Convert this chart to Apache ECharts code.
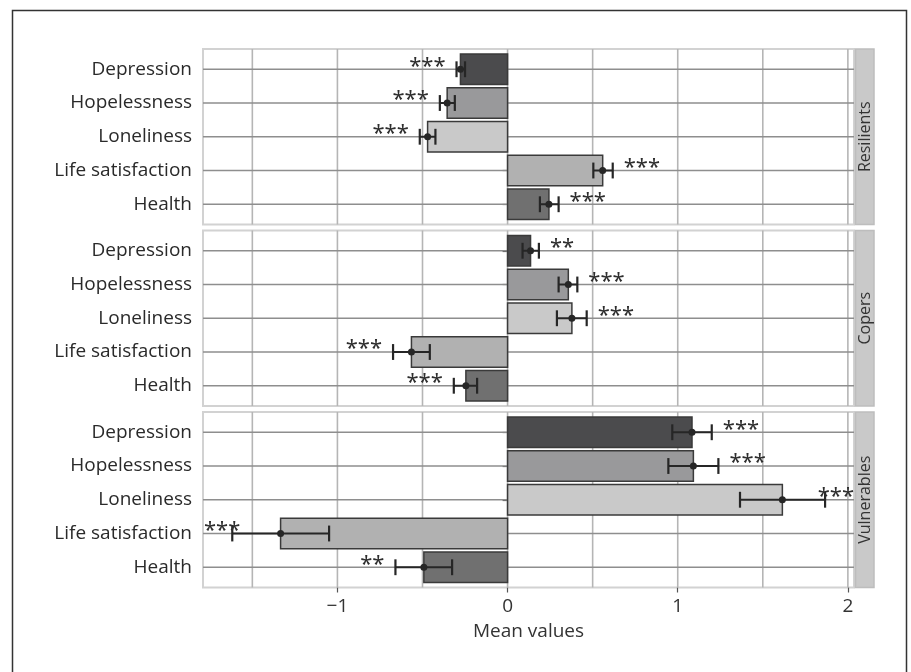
<!DOCTYPE html>
<html>
<head>
<meta charset="utf-8">
<script src="https://cdn.jsdelivr.net/npm/echarts@6/dist/echarts.min.js"></script>
<style>
  html, body { margin: 0; padding: 0; background: #ffffff; }
  #chart { width: 911px; height: 672px; }
</style>
</head>
<body>
<div id="chart"></div>
<script>
// Facets (top to bottom) and the five outcome measures in each facet
const groups = ['Resilients', 'Copers', 'Vulnerables'];
const measures = ['Depression', 'Hopelessness', 'Loneliness', 'Life satisfaction', 'Health'];

// Mean values with lower / upper error-bar limits and significance marks
const resilientsMean = [-0.277, -0.355, -0.470, 0.559, 0.243];
const resilientsLow  = [-0.300, -0.398, -0.516, 0.504, 0.190];
const resilientsHigh = [-0.250, -0.310, -0.424, 0.618, 0.300];
const resilientsSig  = ['***', '***', '***', '***', '***'];

const copersMean = [0.135, 0.357, 0.378, -0.565, -0.245];
const copersLow  = [0.088, 0.300, 0.290, -0.673, -0.316];
const copersHigh = [0.184, 0.410, 0.465, -0.457, -0.179];
const copersSig  = ['**', '***', '***', '***', '***'];

const vulnerablesMean = [1.084, 1.092, 1.615, -1.334, -0.492];
const vulnerablesLow  = [0.968, 0.945, 1.366, -1.618, -0.659];
const vulnerablesHigh = [1.200, 1.239, 1.866, -1.049, -0.326];
const vulnerablesSig  = ['***', '***', '***', '***', '**'];

// Axis ticks and reference lines
const xTickValues = [-1, 0, 1, 2];
const xGridValues = [-1.5, -1, -0.5, 0, 0.5, 1, 1.5, 2];

const panels = [
  { name: groups[0], mean: resilientsMean, low: resilientsLow, high: resilientsHigh, sig: resilientsSig },
  { name: groups[1], mean: copersMean, low: copersLow, high: copersHigh, sig: copersSig },
  { name: groups[2], mean: vulnerablesMean, low: vulnerablesLow, high: vulnerablesHigh, sig: vulnerablesSig }
];

const barColors = ['#4b4b4d', '#99999b', '#c9c9c9', '#b1b1b1', '#707070'];
const FONT = '"Open Sans", "Noto Sans", sans-serif';
const X_MIN = -1.79, X_MAX = 2.036;
const Y_MIN = 0.4, Y_MAX = 5.6;
const panelTops = [49, 230.5, 412];
const panelHeight = 175.5;

// significance marks are placed beside the error bar, kept inside the panel
const measureCtx = document.createElement('canvas').getContext('2d');
function textWidth(str, font) {
  measureCtx.font = font;
  return measureCtx.measureText(str).width;
}
const STAR_FAMILY = 'Noto Sans';
const STAR_FONT_SIZE = 22;
const STAR_FONT = 'normal ' + STAR_FONT_SIZE + 'px "' + STAR_FAMILY + '"';

const grids = [], xAxes = [], yAxes = [], series = [];

panels.forEach((p, k) => {
  const last = k === panels.length - 1;
  grids.push({
    left: 203, right: 57, top: panelTops[k], height: panelHeight,
    show: true, borderColor: '#d2d2d2', borderWidth: 2, backgroundColor: '#ffffff'
  });
  xAxes.push({
    type: 'value', gridIndex: k, min: X_MIN, max: X_MAX,
    axisLine: { show: false },
    splitLine: { show: false },
    axisTick: last ? { show: true, length: 5, customValues: xTickValues, lineStyle: { color: '#555', width: 1.2 } } : { show: false },
    axisLabel: last ? {
      show: true, customValues: xTickValues, margin: 10,
      fontFamily: FONT, fontSize: 19, color: '#333',
      formatter: v => (v < 0 ? '\u2212' + Math.abs(v) : String(v))
    } : { show: false },
    name: last ? 'Mean values' : '',
    nameLocation: 'middle', nameGap: 35,
    nameTextStyle: { fontFamily: FONT, fontSize: 19, color: '#333' }
  });
  yAxes.push({
    type: 'value', gridIndex: k, min: Y_MIN, max: Y_MAX, inverse: true,
    axisLine: { show: false },
    splitLine: { show: false },
    axisTick: { show: true, length: 5, customValues: [1, 2, 3, 4, 5], lineStyle: { color: '#555', width: 1.2 } },
    axisLabel: {
      show: true, customValues: [1, 2, 3, 4, 5], margin: 11,
      fontFamily: FONT, fontSize: 19, color: '#2a2a2a',
      formatter: v => measures[Math.round(v) - 1] || ''
    }
  });

  // panel furniture: reference lines and the facet strip
  series.push({
    type: 'custom', xAxisIndex: k, yAxisIndex: k, z: 1, silent: true, clip: false,
    data: [[0, 1]],
    renderItem: (params, api) => {
      const cs = params.coordSys;
      const children = [];
      xGridValues.forEach(v => {
        const x = api.coord([v, 1])[0];
        children.push({ type: 'line', shape: { x1: x, y1: cs.y, x2: x, y2: cs.y + cs.height },
          style: { stroke: '#b5b5b5', lineWidth: 1.6 } });
      });
      measures.forEach((m, i) => {
        const y = api.coord([0, i + 1])[1];
        children.push({ type: 'line', shape: { x1: cs.x, y1: y, x2: cs.x + cs.width, y2: y },
          style: { stroke: '#8e8e8e', lineWidth: 1.4 } });
      });
      const sx = cs.x + cs.width + 1.5;
      children.push({ type: 'rect', shape: { x: sx, y: cs.y, width: 18.5, height: cs.height },
        style: { fill: '#c9c9c9', stroke: '#bdbdbd', lineWidth: 1.5 } });
      children.push({ type: 'text', x: sx + 9.5, y: cs.y + cs.height / 2, rotation: Math.PI / 2,
        style: { text: p.name, fontFamily: FONT, fontSize: 16, fill: '#333',
          align: 'center', verticalAlign: 'middle' } });
      return { type: 'group', children };
    }
  });

  // bars, error bars and significance marks
  series.push({
    type: 'custom', xAxisIndex: k, yAxisIndex: k, z: 5, clip: false,
    data: p.mean.map((m, i) => [m, i + 1, p.low[i], p.high[i]]),
    renderItem: (params, api) => {
      const cs = params.coordSys;
      const i = params.dataIndex;
      const m = api.value(0), y = api.value(1), lo = api.value(2), hi = api.value(3);
      const unit = api.size([0, 1])[1];
      const p0 = api.coord([0, y]);
      const pm = api.coord([m, y]);
      const pl = api.coord([lo, y]);
      const ph = api.coord([hi, y]);
      const bh = unit * 0.9;
      const cap = unit * 0.47;
      const cy = pm[1];
      const children = [
        { type: 'rect', shape: { x: Math.min(p0[0], pm[0]), y: cy - bh / 2, width: Math.abs(pm[0] - p0[0]), height: bh },
          style: { fill: barColors[i], stroke: '#3a3a3a', lineWidth: 1.5 } },
        { type: 'line', shape: { x1: pl[0], y1: cy, x2: ph[0], y2: cy }, style: { stroke: '#262626', lineWidth: 2 } },
        { type: 'line', shape: { x1: pl[0], y1: cy - cap / 2, x2: pl[0], y2: cy + cap / 2 }, style: { stroke: '#262626', lineWidth: 2.2 } },
        { type: 'line', shape: { x1: ph[0], y1: cy - cap / 2, x2: ph[0], y2: cy + cap / 2 }, style: { stroke: '#262626', lineWidth: 2.2 } },
        { type: 'circle', shape: { cx: pm[0], cy: cy, r: 3.5 }, style: { fill: '#262626' } }
      ];
      const sig = p.sig[i];
      const w = textWidth(sig, STAR_FONT);
      let sx;
      if (m >= 0) {
        sx = Math.min(ph[0] + 11, cs.x + cs.width - w);
      } else {
        sx = Math.max(pl[0] - 11 - w, cs.x + 1);
      }
      children.push({ type: 'text', x: sx, y: cy - 3,
        style: { text: sig, fontFamily: STAR_FAMILY, fontSize: STAR_FONT_SIZE, fill: '#2e2e2e',
          align: 'left', verticalAlign: 'middle' } });
      return { type: 'group', children };
    }
  });
});

const chart = echarts.init(document.getElementById('chart'), null, { renderer: 'canvas' });
chart.setOption({
  animation: false,
  backgroundColor: '#ffffff',
  grid: grids,
  xAxis: xAxes,
  yAxis: yAxes,
  series: series,
  graphic: [{
    type: 'rect', left: 10, top: 8, silent: true,
    shape: { width: 894, height: 700 },
    style: { fill: 'none', stroke: '#333', lineWidth: 1.5 }
  }]
});
</script>
</body>
</html>
